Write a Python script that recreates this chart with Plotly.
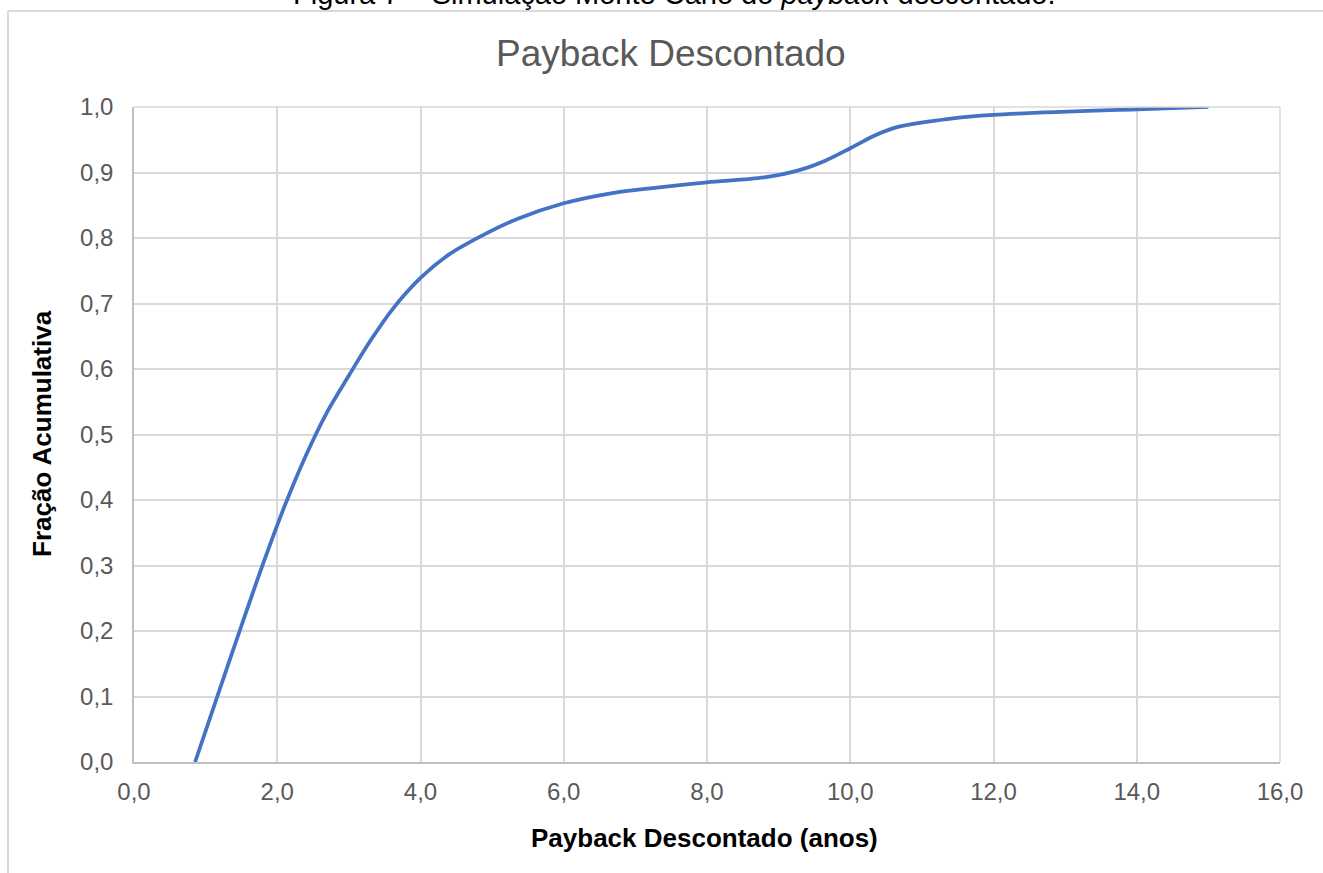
import plotly.graph_objects as go

# Cumulative distribution of the discounted payback (Monte Carlo results)
payback_anos = [0.853, 1.2, 1.5, 1.8, 2.1, 2.4, 2.7, 3.0, 3.3, 3.6, 4.0, 4.4,
                4.9, 5.35, 6.0, 6.7, 7.3, 8.0, 8.8, 9.3, 9.65, 10.0, 10.35,
                10.68, 11.38, 12.0, 14.0, 15.0]
fracao_acumulativa = [0.0, 0.112, 0.208, 0.302, 0.39, 0.468, 0.535, 0.59,
                      0.643, 0.69, 0.739, 0.775, 0.806, 0.829, 0.853, 0.869,
                      0.877, 0.885, 0.8925, 0.904, 0.918, 0.937, 0.957, 0.970,
                      0.982, 0.988, 0.9965, 1.0]

x_ticks = [0, 2, 4, 6, 8, 10, 12, 14, 16]
y_ticks = [0.0, 0.1, 0.2, 0.3, 0.4, 0.5, 0.6, 0.7, 0.8, 0.9, 1.0]

FONT = "Arial, Liberation Sans, sans-serif"
W, H = 1323, 873
L, R, T, B = 134, 43, 107, 111
PW, PH = W - L - R, H - T - B


def px_x(px):
    return (px - L) / PW


def px_y(py):
    return (H - B - py) / PH


fig = go.Figure()
fig.add_trace(go.Scatter(
    x=payback_anos, y=fracao_acumulativa, mode="lines",
    line=dict(color="#4472C4", width=3.75, shape="spline", smoothing=0.9),
    hoverinfo="skip", showlegend=False,
))

fig.update_layout(
    width=W, height=H,
    margin=dict(l=L, r=R, t=T, b=B, pad=0),
    paper_bgcolor="white", plot_bgcolor="white",
    separators=",.",
    font=dict(family=FONT, color="#595959", size=24),
    showlegend=False,
    xaxis=dict(
        range=[0, 16], tickvals=x_ticks, tickformat=".1f",
        showgrid=True, gridcolor="#d9d9d9", gridwidth=1.5,
        zeroline=False, showline=True, linecolor="#bfbfbf", linewidth=1.5,
        ticks="", ticklabelstandoff=7,
        tickfont=dict(family=FONT, size=24, color="#595959"),
    ),
    yaxis=dict(
        range=[0, 1], tickvals=y_ticks, tickformat=".1f",
        showgrid=True, gridcolor="#d9d9d9", gridwidth=1.5,
        zeroline=False, showline=True, linecolor="#bfbfbf", linewidth=1.5,
        ticks="", ticklabelstandoff=14,
        tickfont=dict(family=FONT, size=24, color="#595959"),
    ),
)

# plot-area top and right edges
fig.add_shape(type="line", xref="paper", yref="paper", x0=0, x1=1, y0=1, y1=1,
              line=dict(color="#d9d9d9", width=1.5))
fig.add_shape(type="line", xref="paper", yref="paper", x0=1, x1=1, y0=0, y1=1,
              line=dict(color="#d9d9d9", width=1.5))

# chart frame
fig.add_shape(type="line", xref="paper", yref="paper",
              x0=px_x(8), x1=px_x(1340), y0=px_y(11), y1=px_y(11),
              line=dict(color="#d9d9d9", width=2))
fig.add_shape(type="line", xref="paper", yref="paper",
              x0=px_x(8), x1=px_x(8), y0=px_y(11), y1=px_y(890),
              line=dict(color="#d9d9d9", width=2))

# caption above the frame
fig.add_annotation(
    text="Figura 7 – Simulação Monte Carlo do <i>payback</i> descontado.",
    xref="paper", yref="paper", x=px_x(674), y=px_y(12),
    xanchor="center", yanchor="bottom", showarrow=False,
    font=dict(family=FONT, size=29, color="#000000"),
)

# chart title
fig.add_annotation(
    text="Payback Descontado", xref="paper", yref="paper",
    x=px_x(671), y=px_y(53), xanchor="center", yanchor="middle",
    showarrow=False, font=dict(family=FONT, size=37, color="#595959"),
)

# axis titles
fig.add_annotation(
    text="<b>Payback Descontado (anos)</b>", xref="paper", yref="paper",
    x=px_x(704), y=px_y(838), xanchor="center", yanchor="middle",
    showarrow=False, font=dict(family=FONT, size=26, color="#000000"),
)
fig.add_annotation(
    text="<b>Fração Acumulativa</b>", xref="paper", yref="paper",
    x=px_x(42), y=px_y(434), xanchor="center", yanchor="middle",
    textangle=-90, showarrow=False,
    font=dict(family=FONT, size=26, color="#000000"),
)

fig.write_html("out.html")
